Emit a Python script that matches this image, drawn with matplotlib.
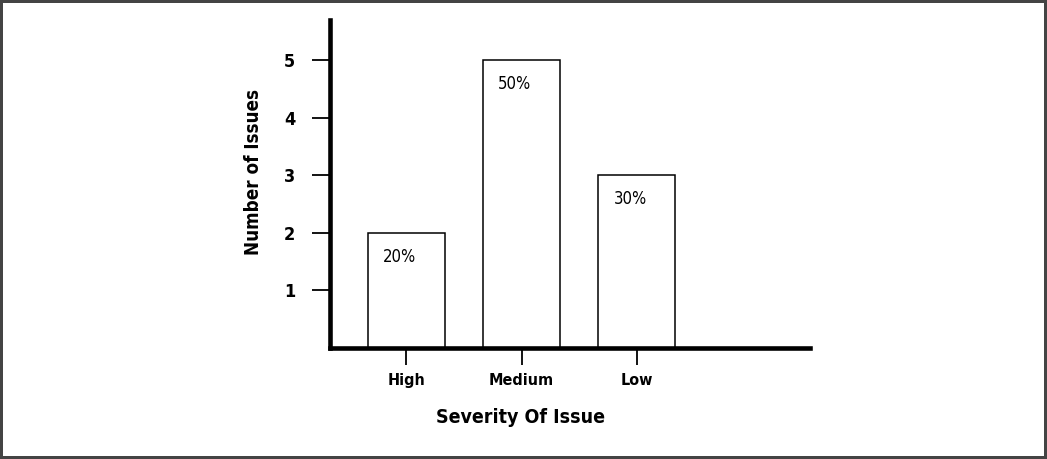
import matplotlib
matplotlib.use('Agg')
import matplotlib.pyplot as plt

# ---------------------------------------------------------------------------
# Data
# ---------------------------------------------------------------------------
severity = ['High', 'Medium', 'Low']
issue_counts = [2, 5, 3]
pct_labels = ['20%', '50%', '30%']
y_ticks = [1, 2, 3, 4, 5]

# narrow bold look of the original: condensed DejaVu face
plt.rcParams['font.family'] = ['DejaVu Sans']
plt.rcParams['font.stretch'] = 'condensed'

fig = plt.figure(figsize=(10.47, 4.59), dpi=100)
fig.patch.set_facecolor('white')
fig.patch.set_edgecolor('#444444')
fig.patch.set_linewidth(3)

ax = fig.add_axes([0.3152, 0.2418, 0.4585, 0.7146])

x = range(len(severity))
ax.bar(x, issue_counts, width=0.667, color='white',
       edgecolor='black', linewidth=1.1)

# percentage labels inside each bar, near the top
for xi, h, lab in zip(x, issue_counts, pct_labels):
    ax.annotate(lab, (xi, h), xytext=(-5, -17), textcoords='offset points',
                ha='center', va='center', fontsize=12)

ax.set_xlim(-0.66, 3.5)
ax.set_ylim(0, 5.7)

ax.set_xticks(list(x))
ax.set_xticklabels(severity, fontsize=11.5, fontweight='bold')
ax.set_yticks(y_ticks)
ax.set_yticklabels([str(t) for t in y_ticks], fontsize=13, fontweight='bold')

ax.tick_params(axis='x', length=12, width=1.3, pad=6)
ax.tick_params(axis='y', length=13, width=1.3, pad=12)

for side in ('top', 'right'):
    ax.spines[side].set_visible(False)
for side in ('left', 'bottom'):
    ax.spines[side].set_linewidth(3.3)

ax.set_xlabel('Severity Of Issue', fontsize=14, fontweight='bold', va='center')
ax.xaxis.set_label_coords(0.396, -0.213)
ax.set_ylabel('Number of Issues', fontsize=13.5, fontweight='bold', va='center')
ax.yaxis.set_label_coords(-0.160, 0.537)

fig.savefig('out.png', dpi=100)
